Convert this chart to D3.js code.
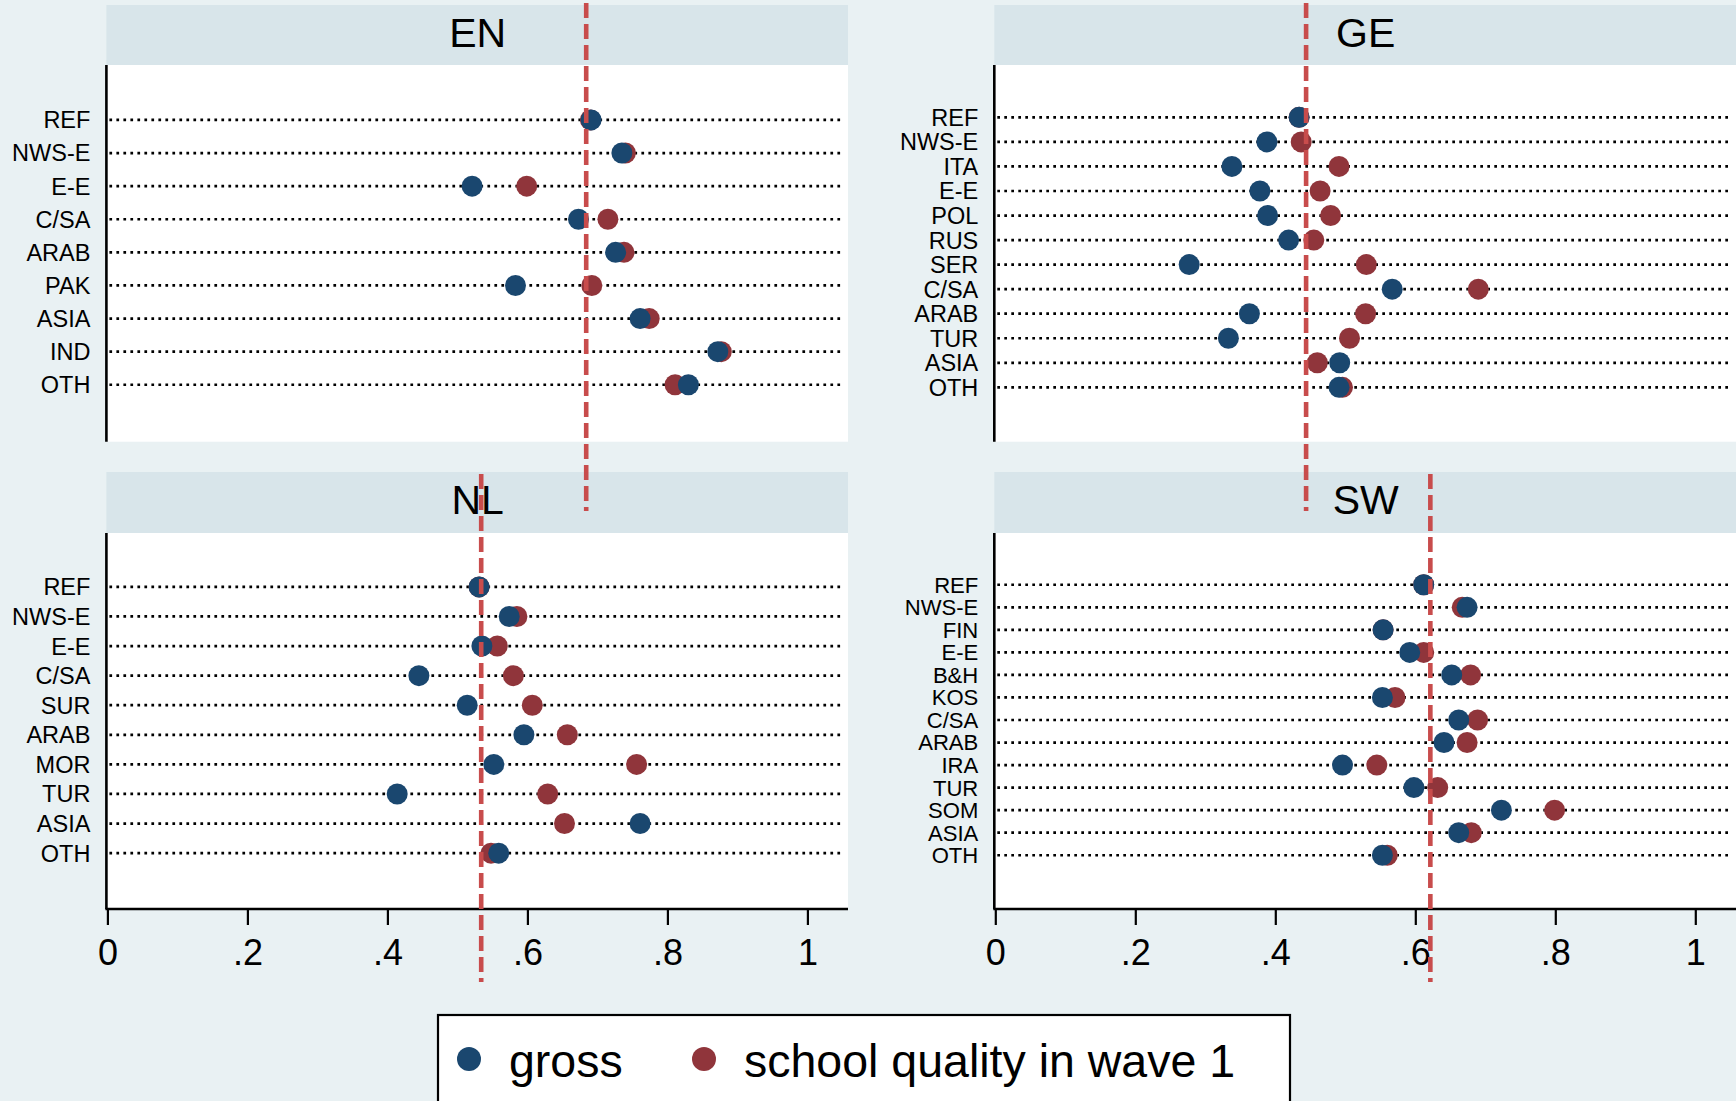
<!DOCTYPE html>
<html>
<head>
<meta charset="utf-8">
<script src="https://cdn.jsdelivr.net/npm/d3@7"></script>
<style>
  html, body { margin: 0; padding: 0; background: #e9f1f3; }
  svg { display: block; }
  text { font-family: "Liberation Sans", Arial, Helvetica, sans-serif; fill: #000; }
</style>
</head>
<body>
<svg id="chart" width="1736" height="1101"></svg>
<script>
// ---------------- data ----------------
const panelNames = ["EN", "GE", "NL", "SW"];

const catsEN   = ["REF", "NWS-E", "E-E", "C/SA", "ARAB", "PAK", "ASIA", "IND", "OTH"];
const grossEN  = [0.691, 0.735, 0.521, 0.673, 0.726, 0.583, 0.761, 0.872, 0.830];
const schoolEN = [0.690, 0.740, 0.599, 0.715, 0.738, 0.692, 0.774, 0.877, 0.811];

const catsGE   = ["REF", "NWS-E", "ITA", "E-E", "POL", "RUS", "SER", "C/SA", "ARAB", "TUR", "ASIA", "OTH"];
const grossGE  = [0.434, 0.388, 0.338, 0.378, 0.389, 0.419, 0.277, 0.567, 0.363, 0.333, 0.492, 0.491];
const schoolGE = [0.434, 0.437, 0.491, 0.464, 0.479, 0.455, 0.530, 0.690, 0.529, 0.506, 0.460, 0.496];

const catsNL   = ["REF", "NWS-E", "E-E", "C/SA", "SUR", "ARAB", "MOR", "TUR", "ASIA", "OTH"];
const grossNL  = [0.531, 0.574, 0.535, 0.445, 0.514, 0.595, 0.552, 0.414, 0.761, 0.559];
const schoolNL = [0.531, 0.585, 0.557, 0.580, 0.607, 0.657, 0.756, 0.629, 0.653, 0.548];

const catsSW   = ["REF", "NWS-E", "FIN", "E-E", "B&H", "KOS", "C/SA", "ARAB", "IRA", "TUR", "SOM", "ASIA", "OTH"];
const grossSW  = [0.612, 0.674, 0.554, 0.592, 0.652, 0.553, 0.662, 0.641, 0.496, 0.598, 0.723, 0.662, 0.553];
const schoolSW = [0.612, 0.667, 0.554, 0.612, 0.679, 0.571, 0.689, 0.674, 0.545, 0.632, 0.799, 0.680, 0.560];

const refLines = [0.684, 0.444, 0.534, 0.6215];

const tickValues = [0, 0.2, 0.4, 0.6, 0.8, 1];
const tickLabels = ["0", ".2", ".4", ".6", ".8", "1"];

const seriesNames = ["gross", "school quality in wave 1"];

// ---------------- style ----------------
const colBlue = "#1a476f";
const colRed = "#90353b";
const colLine = "#c84c4c";
const colHeader = "#d8e5ea";

// ---------------- layout ----------------
const layouts = [
  { x0: 107.4, right: 848,  headTop: 5,   plotTop: 65,  plotBottom: 441.7, axis: false, lineTop: 3,   lineBottom: 511 },
  { x0: 995.3, right: 1736, headTop: 5,   plotTop: 65,  plotBottom: 441.7, axis: false, lineTop: 3,   lineBottom: 511 },
  { x0: 107.4, right: 848,  headTop: 472, plotTop: 533, plotBottom: 909,   axis: true,  lineTop: 474, lineBottom: 982 },
  { x0: 995.3, right: 1736, headTop: 472, plotTop: 533, plotBottom: 909,   axis: true,  lineTop: 474, lineBottom: 982 }
];
const unitWidth = 700;

const panels = [
  { name: panelNames[0], cats: catsEN, gross: grossEN, school: schoolEN, ref: refLines[0] },
  { name: panelNames[1], cats: catsGE, gross: grossGE, school: schoolGE, ref: refLines[1] },
  { name: panelNames[2], cats: catsNL, gross: grossNL, school: schoolNL, ref: refLines[2] },
  { name: panelNames[3], cats: catsSW, gross: grossSW, school: schoolSW, ref: refLines[3] }
];

const svg = d3.select("#chart");
svg.append("rect").attr("x", 0).attr("y", 0).attr("width", 1736).attr("height", 1101).attr("fill", "#e9f1f3");

const lineLayer = [];

panels.forEach((p, i) => {
  const L = layouts[i];
  const g = svg.append("g");
  const x = d3.scaleLinear().domain([0, 1]).range([L.x0, L.x0 + unitWidth]);
  const H = L.plotBottom - L.plotTop;
  const n = p.cats.length;
  const step = (H - 92) / (n - 0.4);
  const gap = 45 + 0.3 * step;
  const y = d3.scalePoint().domain(p.cats).range([L.plotTop + gap, L.plotBottom - gap - 2]);
  const labelSize = Math.min(23.5, step * 0.98);

  // header band
  g.append("rect").attr("x", L.x0 - 1).attr("y", L.headTop)
    .attr("width", L.right - L.x0 + 1).attr("height", L.plotTop - L.headTop)
    .attr("fill", colHeader);
  g.append("text").attr("x", (L.x0 + L.right) / 2).attr("y", L.headTop + 42)
    .attr("text-anchor", "middle").attr("font-size", 41).text(p.name);

  // plot region
  g.append("rect").attr("x", L.x0).attr("y", L.plotTop)
    .attr("width", L.right - L.x0).attr("height", H).attr("fill", "#ffffff");

  // dotted guide lines
  g.selectAll("line.guide").data(p.cats).enter().append("line")
    .attr("x1", L.x0 + 2).attr("x2", L.right - 6)
    .attr("y1", d => y(d)).attr("y2", d => y(d))
    .attr("stroke", "#000").attr("stroke-width", 2.7)
    .attr("stroke-dasharray", "2.7,4.3");

  // category labels
  g.selectAll("text.cat").data(p.cats).enter().append("text")
    .attr("x", L.x0 - 17).attr("y", d => y(d))
    .attr("dy", "0.36em").attr("text-anchor", "end")
    .attr("font-size", labelSize).text(d => d);

  // y axis line
  g.append("line").attr("x1", L.x0 - 1).attr("x2", L.x0 - 1)
    .attr("y1", L.plotTop).attr("y2", L.plotBottom)
    .attr("stroke", "#000").attr("stroke-width", 2.6);

  // x axis
  if (L.axis) {
    const ax = d3.axisBottom(x).tickValues(tickValues)
      .tickFormat((d, k) => tickLabels[k]).tickSize(16).tickPadding(14);
    const axG = g.append("g").attr("transform", `translate(0,${L.plotBottom})`).call(ax);
    axG.select(".domain").attr("d", `M${L.x0 - 2},0H${L.right}`).attr("stroke", "#000").attr("stroke-width", 2.4);
    axG.selectAll(".tick line").attr("stroke", "#000").attr("stroke-width", 2.2);
    axG.selectAll(".tick text").attr("font-size", 36)
      .attr("font-family", "'Liberation Sans', Arial, Helvetica, sans-serif").attr("fill", "#000");
  }

  // markers: school quality (red) first, gross (blue) on top
  g.selectAll("circle.school").data(p.cats).enter().append("circle")
    .attr("cx", (d, k) => x(p.school[k])).attr("cy", d => y(d))
    .attr("r", 10.5).attr("fill", colRed);
  g.selectAll("circle.gross").data(p.cats).enter().append("circle")
    .attr("cx", (d, k) => x(p.gross[k])).attr("cy", d => y(d))
    .attr("r", 10.5).attr("fill", colBlue);

  lineLayer.push({ x: x(p.ref), y1: L.lineTop, y2: L.lineBottom });
});

// dashed reference lines drawn on top
svg.selectAll("line.ref").data(lineLayer).enter().append("line")
  .attr("x1", d => d.x).attr("x2", d => d.x)
  .attr("y1", d => d.y1).attr("y2", d => d.y2)
  .attr("stroke", colLine).attr("stroke-width", 4.6)
  .attr("stroke-dasharray", "15,6");

// legend
const lg = svg.append("g");
lg.append("rect").attr("x", 438).attr("y", 1015).attr("width", 852).attr("height", 100)
  .attr("fill", "#ffffff").attr("stroke", "#000").attr("stroke-width", 2.2);
const legendItems = [
  { label: seriesNames[0], color: colBlue, cx: 469, tx: 509 },
  { label: seriesNames[1], color: colRed, cx: 704, tx: 744 }
];
legendItems.forEach(it => {
  lg.append("circle").attr("cx", it.cx).attr("cy", 1059).attr("r", 12).attr("fill", it.color);
  lg.append("text").attr("x", it.tx).attr("y", 1077).attr("font-size", 46.5).text(it.label);
});
</script>
</body>
</html>
